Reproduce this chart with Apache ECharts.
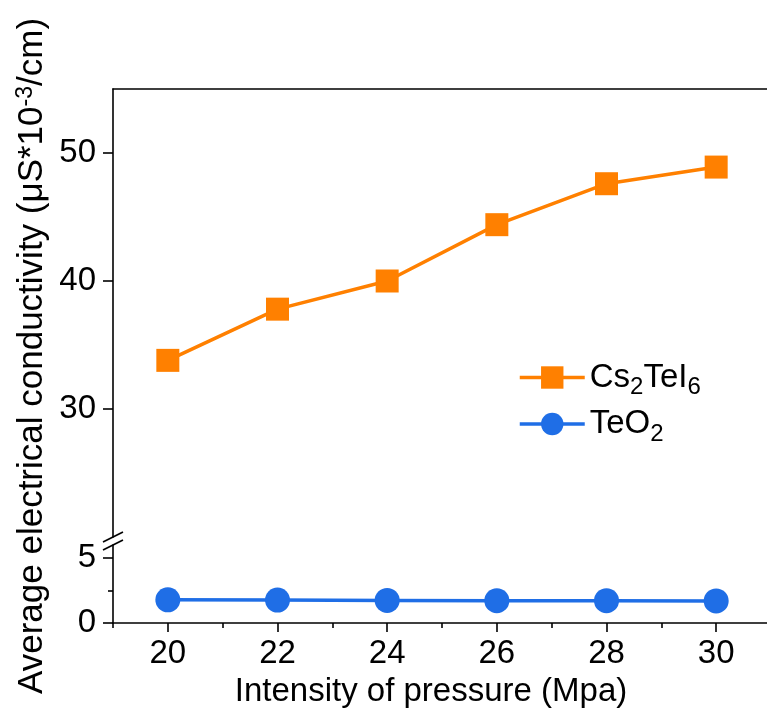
<!DOCTYPE html>
<html>
<head>
<meta charset="utf-8">
<script src="https://cdn.jsdelivr.net/npm/echarts@6/dist/echarts.min.js"></script>
<style>html,body{margin:0;padding:0;background:#fff}#c{width:767px;height:722px}</style>
</head>
<body>
<div id="c"></div>
<script>
const pressure = [20, 22, 24, 26, 28, 30];
const cs2tei6 = [33.8, 37.8, 40.0, 44.4, 47.6, 48.9];
const teo2 = [1.78, 1.76, 1.74, 1.72, 1.72, 1.70];
const xMajorTicks = [20, 22, 24, 26, 28, 30];
const xMinorTicks = [19, 21, 23, 25, 27, 29];
const yTopTicks = [30, 40, 50];
const yBottomTicks = [0, 5];
const yBottomMinor = [2.5];
const seriesNames = ['Cs2TeI6', 'TeO2'];

const FONT = 'Liberation Sans, Arial, Helvetica, sans-serif';
const ORANGE = '#FF8000';
const BLUE = '#1F6EE6';
const BLACK = '#000';
const AXW = 1.6;

const chart = echarts.init(document.getElementById('c'), null, {renderer: 'canvas'});

function pairs(xs, ys) { return xs.map((x, i) => [x, ys[i]]); }

const legendRich = {
  n: {fontSize: 33, fontFamily: FONT, color: BLACK, lineHeight: 36, verticalAlign: 'middle'},
  s: {fontSize: 24, fontFamily: FONT, color: BLACK, lineHeight: 36, verticalAlign: 'bottom', padding: [0, 0, -4, 0]}
};

const option = {
  backgroundColor: '#fff',
  animation: false,
  textStyle: {fontFamily: FONT, color: BLACK},
  grid: [
    {left: 113, right: -4, top: 89, height: 448, outerBoundsMode: 'none', containLabel: false},
    {left: 113, right: -4, top: 545, height: 78, outerBoundsMode: 'none', containLabel: false},
    {left: 113, right: -4, top: 89, height: 534, outerBoundsMode: 'none', containLabel: false}
  ],
  xAxis: [
    {gridIndex: 0, type: 'value', min: 19, max: 31, position: 'top',
     axisLine: {show: true, lineStyle: {color: BLACK, width: AXW}},
     axisTick: {show: false}, axisLabel: {show: false}, splitLine: {show: false}},
    {gridIndex: 1, type: 'value', min: 19, max: 31, position: 'bottom',
     axisLine: {show: true, onZero: false, lineStyle: {color: BLACK, width: AXW}},
     axisTick: {show: true, inside: false, length: 9, customValues: xMajorTicks, lineStyle: {color: BLACK, width: AXW}},
     axisLabel: {show: true, customValues: xMajorTicks, margin: 14, fontSize: 33, fontFamily: FONT, color: BLACK},
     splitLine: {show: false},
     name: 'Intensity of pressure (Mpa)', nameLocation: 'middle', nameGap: 52,
     nameTextStyle: {fontSize: 33, fontFamily: FONT, color: BLACK, padding: [0, 22, 0, 0]}},
    {gridIndex: 1, type: 'value', min: 19, max: 31, position: 'bottom',
     axisLine: {show: false},
     axisTick: {show: true, inside: false, length: 5, customValues: xMinorTicks, lineStyle: {color: BLACK, width: AXW}},
     axisLabel: {show: false}, splitLine: {show: false}},
    {gridIndex: 2, type: 'value', min: 19, max: 31, show: false}
  ],
  yAxis: [
    {gridIndex: 0, type: 'value', min: 20, max: 55, position: 'left',
     axisLine: {show: true, onZero: false, lineStyle: {color: BLACK, width: AXW}},
     axisTick: {show: true, inside: false, length: 10, customValues: yTopTicks, lineStyle: {color: BLACK, width: AXW}},
     axisLabel: {show: true, customValues: yTopTicks, margin: 17, fontSize: 33, fontFamily: FONT, color: BLACK},
     splitLine: {show: false}},
    {gridIndex: 1, type: 'value', min: 0, max: 6, position: 'left',
     axisLine: {show: true, onZero: false, lineStyle: {color: BLACK, width: AXW}},
     axisTick: {show: true, inside: false, length: 10, customValues: yBottomTicks, lineStyle: {color: BLACK, width: AXW}},
     axisLabel: {show: true, customValues: yBottomTicks, margin: 17, fontSize: 33, fontFamily: FONT, color: BLACK},
     splitLine: {show: false}},
    {gridIndex: 1, type: 'value', min: 0, max: 6, position: 'left',
     axisLine: {show: false},
     axisTick: {show: true, inside: false, length: 5, customValues: yBottomMinor, lineStyle: {color: BLACK, width: AXW}},
     axisLabel: {show: false}, splitLine: {show: false}},
    {gridIndex: 2, type: 'value', min: 0, max: 1, position: 'left',
     axisLine: {show: false}, axisTick: {show: false}, axisLabel: {show: false}, splitLine: {show: false},
     name: 'Average electrical conductivity (μS*10{sup|-3}/cm)', nameLocation: 'middle', nameGap: 62,
     nameTextStyle: {fontSize: 35, fontFamily: FONT, color: BLACK,
       rich: {sup: {fontSize: 23, fontFamily: FONT, color: BLACK, verticalAlign: 'top', padding: [0, 0, 14, 0]}}}}
  ],
  legend: {
    orient: 'vertical', left: 513, top: 356, itemWidth: 65, itemHeight: 28, itemGap: 8,
    data: seriesNames,
    lineStyle: {width: 3.5},
    formatter: function (name) {
      if (name === 'Cs2TeI6') return '{n|Cs}{s|2}{n|TeI}{s|6}';
      return '{n|TeO}{s|2}';
    },
    textStyle: {rich: legendRich, fontSize: 33, fontFamily: FONT, color: BLACK}
  },
  graphic: [
    {type: 'line', shape: {x1: 103, y1: 542, x2: 123, y2: 532}, style: {stroke: BLACK, lineWidth: AXW}},
    {type: 'line', shape: {x1: 103, y1: 550, x2: 123, y2: 540}, style: {stroke: BLACK, lineWidth: AXW}}
  ],
  series: [
    {name: seriesNames[0], type: 'line', xAxisIndex: 0, yAxisIndex: 0,
     data: pairs(pressure, cs2tei6), symbol: 'rect', symbolSize: 23,
     itemStyle: {color: ORANGE}, lineStyle: {color: ORANGE, width: 3.5}},
    {name: seriesNames[1], type: 'line', xAxisIndex: 1, yAxisIndex: 1,
     data: pairs(pressure, teo2), symbol: 'circle', symbolSize: 25,
     itemStyle: {color: BLUE}, lineStyle: {color: BLUE, width: 3.5}}
  ]
};
chart.setOption(option);
</script>
</body>
</html>
